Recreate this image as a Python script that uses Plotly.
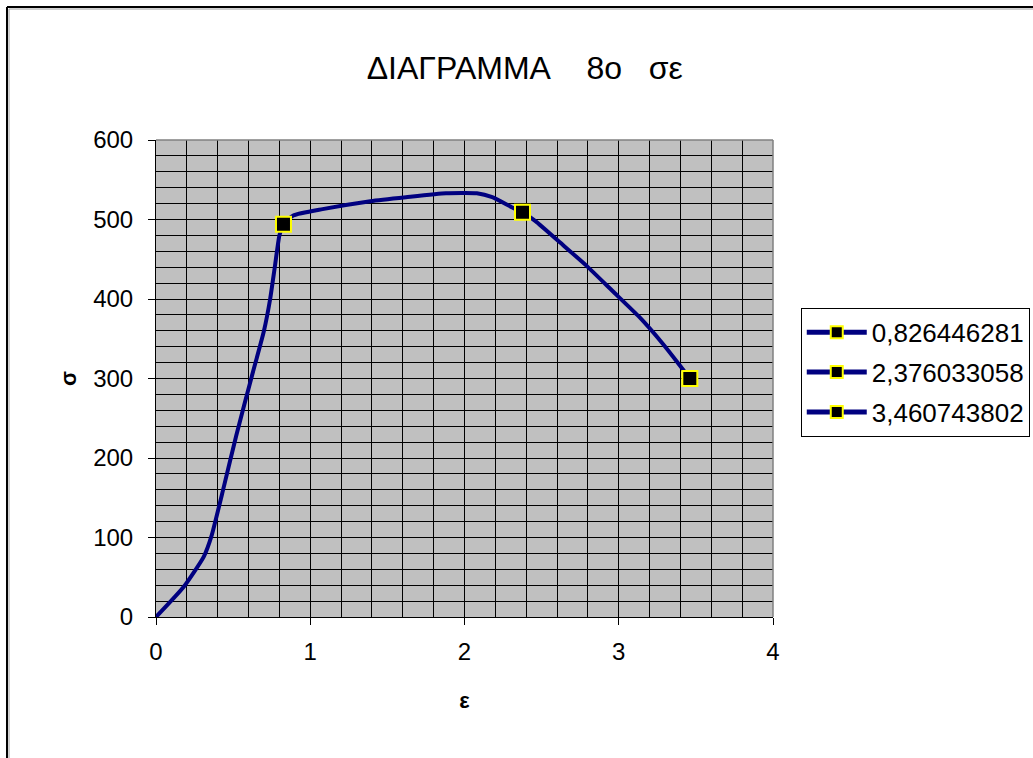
import plotly.graph_objects as go

# Stress-strain curve (ε in %, σ in MPa)
eps = [0.0, 0.18, 0.31, 0.36, 0.44, 0.52, 0.62, 0.70, 0.74, 0.77, 0.80,
       0.826446281, 0.89, 1.08, 1.39, 1.62, 1.88, 2.08, 2.18, 2.31,
       2.376033058, 2.46, 2.62, 2.79, 2.96, 3.13, 3.28, 3.39, 3.460743802]
sigma = [0, 38, 76, 102, 164, 228, 302, 360, 400, 440, 480,
         494, 505, 513, 523, 528, 533, 533, 528, 515,
         509, 498, 471, 442, 410, 378, 345, 318, 300]

# Characteristic points shown with markers
marked_eps = [0.826446281, 2.376033058, 3.460743802]
marked_sigma = [494, 509, 300]
legend_names = ["0,826446281", "2,376033058", "3,460743802"]

x_ticks = [0, 1, 2, 3, 4]
y_ticks = [0, 100, 200, 300, 400, 500, 600]

NAVY = "#000080"
FONT = "Liberation Sans, Arial, sans-serif"

fig = go.Figure()

fig.add_trace(go.Scatter(
    x=eps, y=sigma, mode="lines", showlegend=False, hoverinfo="skip",
    line=dict(color=NAVY, width=4, shape="spline", smoothing=0.5),
))

for i, (xe, ys, name) in enumerate(zip(marked_eps, marked_sigma, legend_names)):
    fig.add_trace(go.Scatter(
        x=[xe], y=[ys], mode="lines+markers", name=name, legendgroup=f"g{i}",
        line=dict(color=NAVY, width=4),
        marker=dict(symbol="square", size=15, color="black",
                    line=dict(color="#FFFF00", width=2)),
    ))

axis_common = dict(
    showline=True, linecolor="black", linewidth=1,
    ticks="outside", ticklen=7, tickcolor="black", tickwidth=1,
    showgrid=True, gridcolor="black", gridwidth=1,
    zeroline=False,
    tickfont=dict(family=FONT, size=24, color="black"),
)

fig.update_xaxes(
    range=[0, 4], tickvals=x_ticks, ticktext=[str(v) for v in x_ticks],
    minor=dict(dtick=0.2, showgrid=True, gridcolor="black", gridwidth=1, ticks=""),
    title=dict(text="ε", font=dict(family=FONT, size=22, color="black", weight="bold"),
               standoff=28),
    ticklabelstandoff=6,
    **axis_common,
)
fig.update_yaxes(
    range=[0, 600], tickvals=y_ticks, ticktext=[str(v) for v in y_ticks],
    minor=dict(dtick=20, showgrid=True, gridcolor="black", gridwidth=1, ticks=""),
    title=dict(text="σ", font=dict(family=FONT, size=22, color="black", weight="bold"),
               standoff=10),
    ticklabelstandoff=10,
    **axis_common,
)

# plot-area border on top and right, chart-area frame at left and top
shapes = [
    dict(type="line", xref="paper", yref="paper", x0=0, x1=1, y0=1, y1=1,
         line=dict(color="#808080", width=1.5), layer="above"),
    dict(type="line", xref="paper", yref="paper", x0=1, x1=1, y0=0, y1=1,
         line=dict(color="#808080", width=1.5), layer="above"),
    dict(type="line", xref="paper", yref="paper", x0=-0.2415, x1=-0.2415, y0=-0.6, y1=1.2788,
         line=dict(color="black", width=2)),
    dict(type="line", xref="paper", yref="paper", x0=-0.2415, x1=1.6, y0=1.2788, y1=1.2788,
         line=dict(color="black", width=2)),
    dict(type="line", xref="paper", yref="paper", x0=-0.2382, x1=-0.2382, y0=-0.6, y1=1.2746,
         line=dict(color="#A0A0A0", width=1)),
    dict(type="line", xref="paper", yref="paper", x0=-0.2382, x1=1.6, y0=1.2746, y1=1.2746,
         line=dict(color="#A0A0A0", width=1)),
]

fig.update_layout(
    width=1033, height=758,
    margin=dict(l=156, r=260, t=140, b=141, autoexpand=False),
    paper_bgcolor="white", plot_bgcolor="#C0C0C0",
    title=dict(text="ΔΙΑΓΡΑΜΜΑ\u00a0\u00a0\u00a0\u00a08ο\u00a0\u00a0\u00a0σε",
               x=0.508, xanchor="center", y=0.91, yanchor="middle",
               font=dict(family=FONT, size=32, color="black")),
    legend=dict(x=1.045, xanchor="left", y=0.648, yanchor="top",
                bgcolor="white", bordercolor="black", borderwidth=1,
                font=dict(family=FONT, size=26, color="black"),
                itemsizing="constant", itemwidth=60,
                traceorder="grouped", tracegroupgap=3),
    shapes=shapes,
    showlegend=True,
)

fig.write_html("out.html")
